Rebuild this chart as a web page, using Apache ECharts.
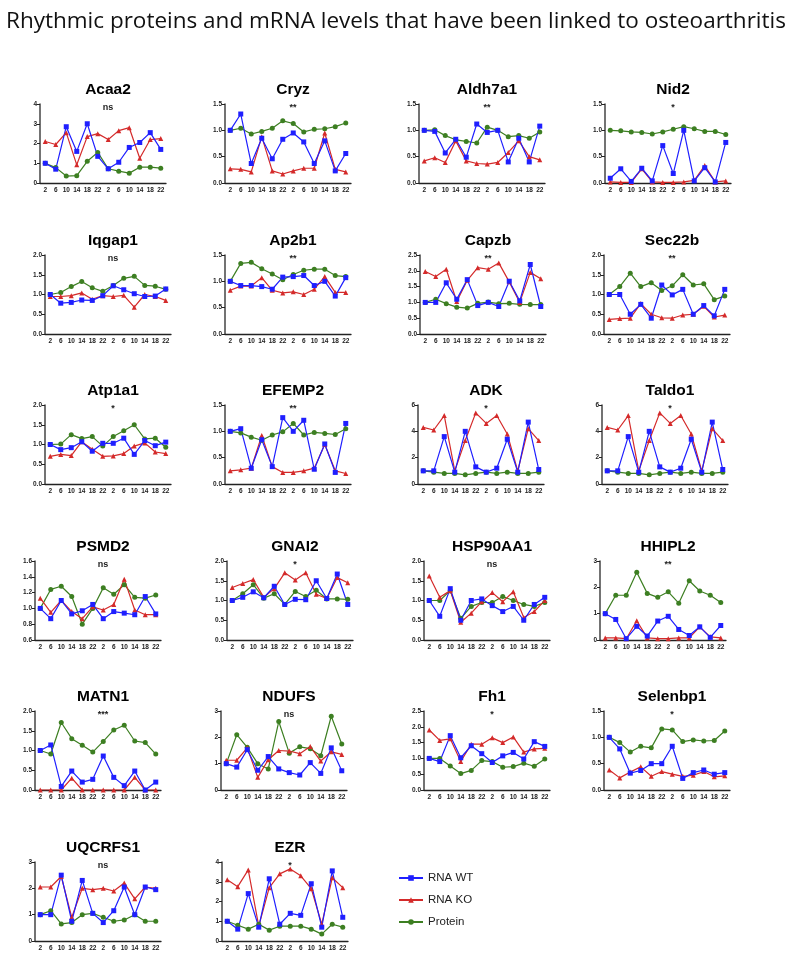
<!DOCTYPE html>
<html><head><meta charset="utf-8">
<script src="https://cdn.jsdelivr.net/npm/echarts@6/dist/echarts.min.js"></script>
<style>html,body{margin:0;padding:0;background:#fff}#c{width:787px;height:953px}</style>
</head><body><div id="c"></div><script>
const times = ['2','6','10','14','18','22','2','6','10','14','18','22'];
const seriesNames = ['RNA WT','RNA KO','Protein'];

const Acaa2_WT = [1.0,0.7,2.85,1.6,3.0,1.35,0.72,1.05,1.8,2.05,2.55,1.7];
const Acaa2_KO = [2.1,1.95,2.55,0.92,2.35,2.5,2.2,2.65,2.8,1.25,2.2,2.25];
const Acaa2_PR = [1.0,0.78,0.35,0.37,1.1,1.55,0.72,0.6,0.5,0.8,0.8,0.75];

const Cryz_WT = [1.0,1.31,0.37,0.85,0.46,0.83,0.95,0.78,0.37,0.8,0.23,0.56];
const Cryz_KO = [0.27,0.26,0.21,0.88,0.23,0.17,0.23,0.28,0.28,0.95,0.26,0.21];
const Cryz_PR = [1.0,1.04,0.93,0.98,1.04,1.18,1.13,0.97,1.02,1.03,1.07,1.14];

const Aldh7a1_WT = [1.0,0.98,0.57,0.83,0.49,1.12,0.96,1.0,0.4,0.85,0.4,1.08];
const Aldh7a1_KO = [0.42,0.48,0.39,0.8,0.42,0.37,0.36,0.39,0.58,0.8,0.5,0.44];
const Aldh7a1_PR = [1.0,1.01,0.9,0.82,0.79,0.76,1.06,1.0,0.88,0.9,0.85,0.97];

const Nid2_WT = [0.09,0.27,0.03,0.28,0.04,0.71,0.18,1.0,0.04,0.29,0.02,0.77];
const Nid2_KO = [0.02,0.01,0.01,0.27,0.02,0.01,0.01,0.02,0.05,0.33,0.02,0.04];
const Nid2_PR = [1.0,0.99,0.97,0.96,0.93,0.97,1.02,1.07,1.03,0.98,0.98,0.92];

const Iqgap1_WT = [1.0,0.78,0.8,0.86,0.85,0.97,1.22,1.12,1.02,0.95,0.96,1.14];
const Iqgap1_KO = [0.95,0.95,0.97,1.04,0.88,0.97,0.95,0.98,0.68,1.0,0.95,0.85];
const Iqgap1_PR = [1.0,1.05,1.2,1.33,1.17,1.08,1.23,1.41,1.46,1.23,1.21,1.13];

const Ap2b1_WT = [1.0,0.92,0.92,0.9,0.85,1.08,1.09,1.11,0.92,1.0,0.72,1.07];
const Ap2b1_KO = [0.83,0.91,0.91,1.07,0.83,0.78,0.8,0.75,0.85,1.09,0.79,0.79];
const Ap2b1_PR = [1.0,1.34,1.36,1.24,1.14,1.03,1.13,1.21,1.23,1.23,1.11,1.09];

const Capzb_WT = [1.0,1.0,1.62,1.1,1.72,0.9,1.0,0.87,1.67,1.05,2.2,0.87];
const Capzb_KO = [1.98,1.82,2.05,1.03,1.7,2.1,2.05,2.25,1.65,1.0,1.95,1.75];
const Capzb_PR = [1.0,1.1,0.96,0.85,0.82,0.97,1.01,0.96,0.97,0.94,0.93,0.93];

const Sec22b_WT = [1.0,1.0,0.5,0.75,0.4,1.24,0.99,1.13,0.5,0.72,0.46,1.13];
const Sec22b_KO = [0.37,0.39,0.4,0.77,0.5,0.41,0.4,0.48,0.5,0.7,0.43,0.48];
const Sec22b_PR = [1.0,1.2,1.54,1.2,1.3,1.1,1.22,1.5,1.24,1.27,0.87,0.96];

const Atp1a1_WT = [1.0,0.87,0.92,1.07,0.83,1.03,1.03,1.16,0.75,1.1,0.97,1.06];
const Atp1a1_KO = [0.7,0.75,0.72,1.07,0.88,0.7,0.71,0.77,0.96,1.04,0.81,0.77];
const Atp1a1_PR = [1.0,1.01,1.25,1.15,1.2,0.96,1.2,1.35,1.5,1.14,1.16,0.93];

const EFEMP2_WT = [1.0,1.05,0.3,0.84,0.33,1.26,1.0,1.21,0.28,0.76,0.22,1.15];
const EFEMP2_KO = [0.25,0.27,0.3,0.92,0.33,0.22,0.22,0.25,0.3,0.75,0.25,0.2];
const EFEMP2_PR = [1.0,0.97,0.89,0.83,0.93,0.99,1.15,0.93,0.98,0.96,0.94,1.05];

const ADK_WT = [1.0,1.0,3.6,0.9,4.0,1.3,0.9,1.2,3.4,0.9,4.7,1.1];
const ADK_KO = [4.3,4.1,5.2,1.0,3.3,5.4,4.6,5.2,3.8,1.0,4.2,3.3];
const ADK_PR = [1.0,0.9,0.8,0.8,0.7,0.8,0.9,0.8,0.9,0.8,0.8,0.9];

const Taldo1_WT = [1.0,1.0,3.6,0.9,4.0,1.3,0.9,1.2,3.4,0.9,4.7,1.1];
const Taldo1_KO = [4.3,4.1,5.2,1.0,3.3,5.4,4.6,5.2,3.8,1.0,4.2,3.3];
const Taldo1_PR = [1.0,0.9,0.8,0.8,0.7,0.8,0.9,0.8,0.9,0.8,0.8,0.9];

const PSMD2_WT = [1.0,0.87,1.1,0.93,0.97,1.05,0.87,0.96,0.94,0.92,1.15,0.93];
const PSMD2_KO = [1.13,0.95,1.1,0.96,0.87,1.02,0.98,1.05,1.37,0.98,0.92,0.92];
const PSMD2_PR = [1.0,1.24,1.28,1.15,0.8,1.0,1.26,1.18,1.3,1.14,1.13,1.17];

const GNAI2_WT = [1.0,1.08,1.22,1.07,1.36,0.9,1.03,1.02,1.5,1.05,1.67,0.9];
const GNAI2_KO = [1.33,1.43,1.53,1.08,1.3,1.7,1.52,1.7,1.16,1.05,1.58,1.45];
const GNAI2_PR = [1.0,1.17,1.4,1.06,1.17,0.9,1.23,1.1,1.26,1.04,1.04,1.03];

const HSP90AA1_WT = [1.0,0.6,1.3,0.5,1.0,1.04,0.87,0.72,0.85,0.5,0.9,1.08];
const HSP90AA1_KO = [1.62,1.08,1.25,0.45,0.68,0.97,1.2,0.97,1.22,0.57,0.72,1.0];
const HSP90AA1_PR = [1.0,1.0,1.25,0.55,0.85,0.95,0.95,1.1,1.0,0.9,0.85,0.95];

const HHIPL2_WT = [1.0,0.78,0.05,0.52,0.15,0.72,0.9,0.4,0.17,0.5,0.1,0.55];
const HHIPL2_KO = [0.08,0.08,0.05,0.73,0.08,0.05,0.05,0.08,0.08,0.5,0.12,0.08];
const HHIPL2_PR = [1.0,1.7,1.7,2.57,1.77,1.62,1.83,1.4,2.25,1.86,1.7,1.42];

const MATN1_WT = [1.0,1.14,0.09,0.48,0.2,0.27,0.86,0.32,0.11,0.48,0.0,0.2];
const MATN1_KO = [0,0,0,0.3,0,0,0,0,0,0.32,0,0];
const MATN1_PR = [1.0,0.91,1.71,1.3,1.13,0.96,1.23,1.52,1.64,1.24,1.2,0.91];

const NDUFS_WT = [1.0,0.87,1.53,0.75,1.27,0.8,0.66,0.57,1.04,0.63,1.6,0.73];
const NDUFS_KO = [1.13,1.13,1.6,0.48,1.15,1.5,1.48,1.38,1.65,1.1,1.45,1.35];
const NDUFS_PR = [1.0,2.1,1.62,1.0,0.8,2.6,1.4,1.64,1.57,1.3,2.8,1.75];

const Fh1_WT = [1.0,0.9,1.72,1.02,1.4,1.15,0.87,1.08,1.19,0.98,1.53,1.38];
const Fh1_KO = [1.9,1.57,1.62,0.9,1.45,1.45,1.65,1.5,1.68,1.2,1.3,1.32];
const Fh1_PR = [1.0,1.0,0.76,0.52,0.62,0.93,0.9,0.72,0.74,0.85,0.75,0.98];

const Selenbp1_WT = [1.0,0.78,0.32,0.37,0.5,0.5,0.83,0.22,0.33,0.38,0.3,0.33];
const Selenbp1_KO = [0.38,0.23,0.34,0.44,0.26,0.35,0.3,0.26,0.28,0.35,0.25,0.27];
const Selenbp1_PR = [1.0,0.9,0.72,0.83,0.8,1.16,1.14,0.92,0.95,0.93,0.94,1.12];

const UQCRFS1_WT = [1.0,1.0,2.5,0.75,2.3,1.05,0.7,1.15,2.05,1.0,2.05,1.95];
const UQCRFS1_KO = [2.05,2.05,2.45,0.9,2.0,1.95,2.0,1.9,2.2,1.6,2.05,2.0];
const UQCRFS1_PR = [1.0,1.15,0.65,0.7,1.0,1.05,0.9,0.75,0.8,1.0,0.75,0.75];

const EZR_WT = [1.0,0.6,2.4,0.7,3.15,0.85,1.4,1.3,2.9,0.7,3.55,1.2];
const EZR_KO = [3.1,2.75,3.6,0.75,2.7,3.4,3.65,3.3,2.65,0.85,3.2,2.7];
const EZR_PR = [1.0,0.8,0.6,0.85,0.55,0.75,0.75,0.75,0.6,0.35,0.85,0.7];

const geneNames = ['Acaa2','Cryz','Aldh7a1','Nid2','Iqgap1','Ap2b1','Capzb','Sec22b',
  'Atp1a1','EFEMP2','ADK','Taldo1','PSMD2','GNAI2','HSP90AA1','HHIPL2',
  'MATN1','NDUFS','Fh1','Selenbp1','UQCRFS1','EZR'];
const significance = ['ns','**','**','*','ns','**','**','**','*','**','*','*',
  'ns','*','ns','**','***','ns','*','*','ns','*'];
const wtValues = [Acaa2_WT,Cryz_WT,Aldh7a1_WT,Nid2_WT,Iqgap1_WT,Ap2b1_WT,Capzb_WT,Sec22b_WT,
  Atp1a1_WT,EFEMP2_WT,ADK_WT,Taldo1_WT,PSMD2_WT,GNAI2_WT,HSP90AA1_WT,HHIPL2_WT,
  MATN1_WT,NDUFS_WT,Fh1_WT,Selenbp1_WT,UQCRFS1_WT,EZR_WT];
const koValues = [Acaa2_KO,Cryz_KO,Aldh7a1_KO,Nid2_KO,Iqgap1_KO,Ap2b1_KO,Capzb_KO,Sec22b_KO,
  Atp1a1_KO,EFEMP2_KO,ADK_KO,Taldo1_KO,PSMD2_KO,GNAI2_KO,HSP90AA1_KO,HHIPL2_KO,
  MATN1_KO,NDUFS_KO,Fh1_KO,Selenbp1_KO,UQCRFS1_KO,EZR_KO];
const prValues = [Acaa2_PR,Cryz_PR,Aldh7a1_PR,Nid2_PR,Iqgap1_PR,Ap2b1_PR,Capzb_PR,Sec22b_PR,
  Atp1a1_PR,EFEMP2_PR,ADK_PR,Taldo1_PR,PSMD2_PR,GNAI2_PR,HSP90AA1_PR,HHIPL2_PR,
  MATN1_PR,NDUFS_PR,Fh1_PR,Selenbp1_PR,UQCRFS1_PR,EZR_PR];
// y axis: [min, max, interval, decimals]
const yAxes = [[0,4,1,0],[0,1.5,0.5,1],[0,1.5,0.5,1],[0,1.5,0.5,1],
  [0,2,0.5,1],[0,1.5,0.5,1],[0,2.5,0.5,1],[0,2,0.5,1],
  [0,2,0.5,1],[0,1.5,0.5,1],[0,6,2,0],[0,6,2,0],
  [0.6,1.6,0.2,1],[0,2,0.5,1],[0,2,0.5,1],[0,3,1,0],
  [0,2,0.5,1],[0,3,1,0],[0,2.5,0.5,1],[0,1.5,0.5,1],
  [0,3,1,0],[0,4,1,0]];

// layout
const colLeft = [[40,225,419,605],[45,225,420,604],[45,225,418,602],[35,227,424,600],[35,221,424,604],[35,222,0,0]];
const rowTop = [104,255,405,561,711,862];
const plotH = 79;
const plotW = 126;

const COLORS = ['#1f1fff','#d42a2a','#3d7f22'];

const grids=[], xAxes=[], yAxesOpt=[], series=[], titles=[];
titles.push({text:'Rhythmic proteins and mRNA levels that have been linked to osteoarthritis',
  left:1, top:5, textStyle:{fontFamily:'Open Sans',fontWeight:'normal',fontSize:22.5,color:'#111'}});
geneNames.forEach((g,i)=>{
  const r = Math.floor(i/4), c = i%4;
  const left = colLeft[r][c], top = rowTop[r];
  grids.push({left:left, top:top, width:plotW, height:plotH, containLabel:false});
  xAxes.push({type:'category', gridIndex:i, data:times, boundaryGap:true,
    axisLine:{lineStyle:{color:'#222',width:1.3}},
    axisTick:{alignWithLabel:true,length:3,lineStyle:{color:'#222'}},
    axisLabel:{interval:0,fontSize:6.5,fontWeight:'bold',color:'#222',margin:4,fontFamily:'Liberation Sans'}});
  const ya = yAxes[i];
  yAxesOpt.push({type:'value', gridIndex:i, min:ya[0], max:ya[1], interval:ya[2],
    splitLine:{show:false},
    axisLine:{show:true,lineStyle:{color:'#444',width:1.5}},
    axisTick:{show:true,length:3,lineStyle:{color:'#222'}},
    axisLabel:{fontSize:6.5,fontWeight:'bold',color:'#222',margin:3,fontFamily:'Liberation Sans',
      formatter:v=>v.toFixed(ya[3])}});
  titles.push({text:g, left:left+plotW/2, top:top-27, textAlign:'center',
    textStyle:{fontFamily:'Liberation Sans',fontWeight:'bold',fontSize:15.5,color:'#000'}});
  titles.push({text:significance[i], left:left+plotW/2, top:top-6, textAlign:'center',
    textStyle:{fontFamily:'Liberation Sans',fontWeight:'bold',fontSize:9,color:'#222'}});
  const mk = (name,data,sym,col,size)=>({name:name,type:'line',xAxisIndex:i,yAxisIndex:i,data:data,
    symbol:sym,symbolSize:size,showSymbol:true,lineStyle:{width:1.2,color:col},itemStyle:{color:col},
    animation:false,silent:true});
  series.push(mk('Protein',prValues[i],'circle',COLORS[2],5));
  series.push(mk('RNA KO',koValues[i],'triangle',COLORS[1],5));
  series.push(mk('RNA WT',wtValues[i],'rect',COLORS[0],5));
});

const chart = echarts.init(document.getElementById('c'),null,{renderer:'canvas'});
chart.setOption({
  animation:false,
  title:titles,
  grid:grids, xAxis:xAxes, yAxis:yAxesOpt, series:series,
  legend:{data:seriesNames, orient:'vertical', left:393, top:867, itemWidth:24, itemHeight:7, itemGap:10,
    textStyle:{fontSize:11.5,color:'#222',fontFamily:'Liberation Sans'}}
});
</script></body></html>
